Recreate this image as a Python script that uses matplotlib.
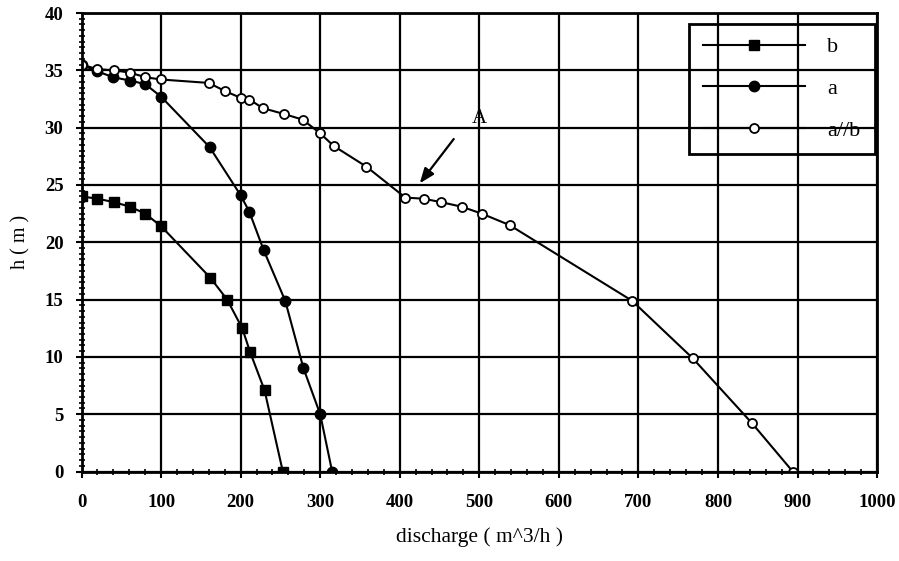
import matplotlib

matplotlib.use("Agg")
import matplotlib.pyplot as plt
from matplotlib.ticker import MultipleLocator

plt.rcParams["font.family"] = ["Liberation Serif", "DejaVu Serif"]

# curve b (filled squares)
b_q = [0, 20, 41, 61, 80, 100, 162, 183, 202, 212, 230, 253]
b_h = [24.0, 23.8, 23.5, 23.1, 22.5, 21.4, 16.9, 15.0, 12.5, 10.4, 7.1, 0.0]

# curve a (filled circles)
a_q = [0, 20, 40, 61, 80, 100, 161, 200, 211, 229, 256, 279, 300, 315]
a_h = [35.5, 34.9, 34.4, 34.1, 33.8, 32.7, 28.3, 24.1, 22.65, 19.3, 14.9,
       9.0, 5.0, 0.0]

# a//b (open circles)
ab_q = [0, 20, 41, 61, 80, 100, 160, 180, 200, 211, 228, 254, 278, 300, 317,
        358, 407, 430, 452, 478, 503, 538, 692, 768, 843, 894]
ab_h = [35.5, 35.1, 35.0, 34.8, 34.4, 34.2, 33.9, 33.2, 32.6, 32.45, 31.7,
        31.2, 30.7, 29.5, 28.4, 26.6, 23.9, 23.8, 23.5, 23.1, 22.5, 21.5,
        14.9, 9.9, 4.2, 0.0]

fig = plt.figure(figsize=(8.99, 5.61), dpi=100)
ax = fig.add_axes([0.0907, 0.1595, 0.8849, 0.8173])

ax.grid(True, color="black", linewidth=1.6)
ax.set_axisbelow(True)

lb, = ax.plot(b_q, b_h, "-s", color="black", lw=1.5, ms=7.5, label="b")
la, = ax.plot(a_q, a_h, "-o", color="black", lw=1.5, ms=7.5, label="a")
lab, = ax.plot(ab_q, ab_h, "-o", color="black", lw=1.5, ms=6.5,
               mfc="white", mew=1.3, label="a//b")

ax.annotate("", xy=(423, 24.95), xytext=(470, 29.2),
            arrowprops=dict(arrowstyle="-|>,head_length=0.9,head_width=0.35",
                            color="black", lw=1.6))
ax.text(500, 30.8, "A", ha="center", va="center", fontsize=15)

ax.set_xlim(0, 1000)
ax.set_ylim(0, 40)
ax.xaxis.set_major_locator(MultipleLocator(100))
ax.xaxis.set_minor_locator(MultipleLocator(20))
ax.yaxis.set_major_locator(MultipleLocator(5))
ax.yaxis.set_minor_locator(MultipleLocator(0.5))
ax.tick_params(which="major", direction="out", length=4, width=1.5,
               labelsize=13.5)
ax.tick_params(axis="x", which="major", pad=12)
ax.tick_params(axis="y", which="major", pad=9)
ax.tick_params(which="minor", direction="inout", length=4, width=1.2)
for lbl in ax.get_xticklabels() + ax.get_yticklabels():
    lbl.set_fontweight("bold")
for s in ax.spines.values():
    s.set_linewidth(2)

ax.set_xlabel("discharge ( m^3/h )", fontsize=15.5, labelpad=12)
ax.set_ylabel("h ( m )", fontsize=14.5, labelpad=10)

leg = ax.legend(handles=[lb, la, lab], loc="upper left",
                bbox_to_anchor=(0.764, 0.0, 0.233, 0.977), mode="expand",
                borderaxespad=0, fontsize=16, handlelength=4.6,
                handletextpad=1.0, labelspacing=0.95, borderpad=0.6,
                fancybox=False, edgecolor="black", framealpha=1)
leg.get_frame().set_facecolor("none")
leg.get_frame().set_linewidth(2)

fig.savefig("out.png", dpi=100)
